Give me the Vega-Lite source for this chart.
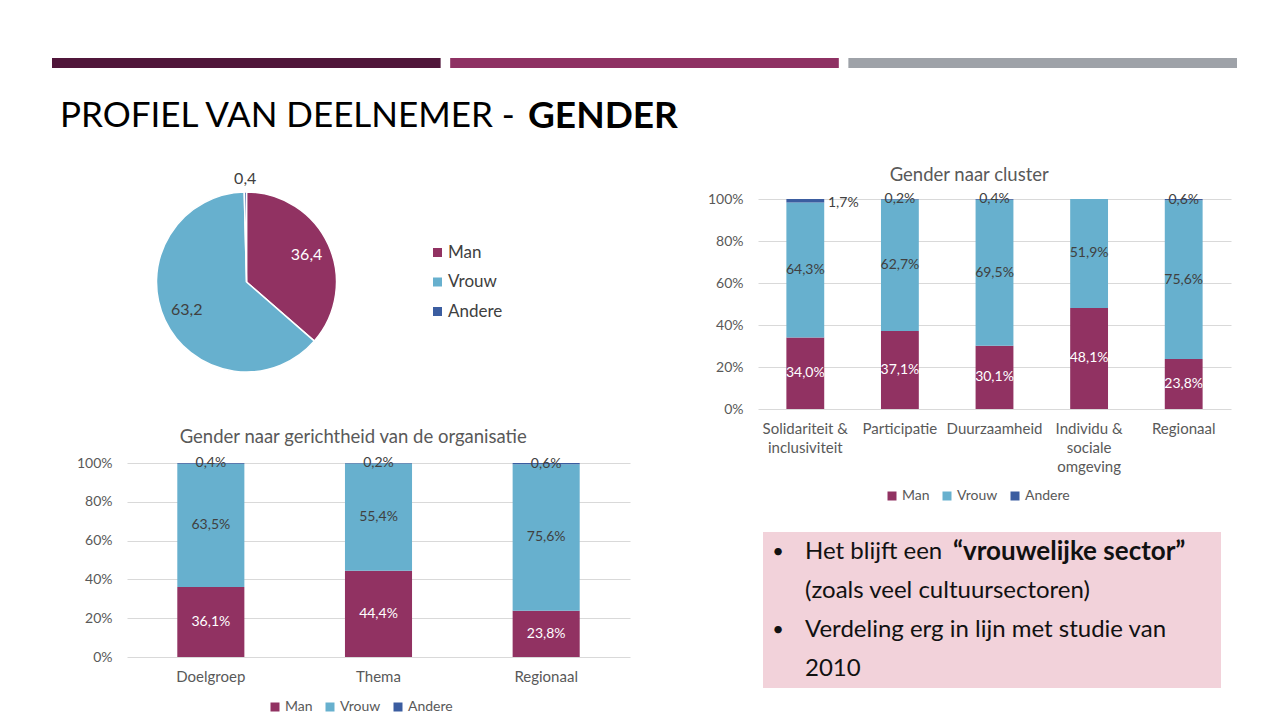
{
  "$schema": "https://vega.github.io/schema/vega-lite/v6.json",
  "padding": {"left": 52, "top": 58, "right": 0, "bottom": 0},
  "background": "white",
  "config": {
    "font": "Lato",
    "view": {"stroke": null},
    "locale": {"number": {"decimal": ",", "thousands": ".", "grouping": [3], "currency": ["€", ""], "percent": "%"}},
    "axis": {"labelFont": "Lato", "labelColor": "#595959", "domain": false, "ticks": false, "gridColor": "#D9D9D9", "gridWidth": 1},
    "legend": {"labelFont": "Lato", "padding": 0, "symbolStrokeWidth": 0}
  },
  "spacing": 65.5,
  "bounds": "flush",
  "resolve": {"scale": {"color": "independent"}, "legend": {"color": "independent"}},
  "vconcat": [
    {
      "width": 1185,
      "height": 10,
      "data": {"values": [{"seg": "a"}, {"seg": "b"}, {"seg": "c"}]},
      "mark": {"type": "bar"},
      "encoding": {
        "x": {"field": "seg", "type": "nominal", "axis": null, "scale": {"paddingInner": 0.024, "paddingOuter": 0}},
        "color": {"field": "seg", "type": "nominal", "legend": null, "scale": {"range": ["#50163A", "#8E3163", "#9EA2A8"]}}
      }
    },
    {
      "hconcat": [
        {
          "width": 476,
          "height": 11,
          "title": {"text": "PROFIEL VAN DEELNEMER -", "dx": 8, "dy": 28.5, "fontSize": 35, "font": "Lato", "fontWeight": "normal", "color": "#000000", "anchor": "start", "baseline": "alphabetic", "offset": 0},
          "data": {"values": [{}]},
          "mark": {"type": "text", "text": ""},
          "encoding": {}
        },
        {
          "width": 200,
          "height": 11,
          "title": {"text": "GENDER", "dy": 31.5, "fontSize": 37, "font": "Lato", "fontWeight": "bold", "color": "#000000", "anchor": "start", "baseline": "alphabetic", "offset": 0},
          "data": {"values": [{}]},
          "mark": {"type": "text", "text": ""},
          "encoding": {}
        }
      ],
      "spacing": 0,
      "bounds": "flush"
    },
    {
      "hconcat": [
        {
          "width": 1,
          "height": 1,
          "data": {"values": [{}]},
          "mark": {"type": "text", "text": ""},
          "encoding": {}
        },
        {
          "hconcat": [
            {
              "vconcat": [
                {
                  "width": 239,
                  "height": 166,
                  "data": {"values": [
                    {"gender": "Man", "v": 36.4, "k": 1},
                    {"gender": "Vrouw", "v": 63.2, "k": 2},
                    {"gender": "Andere", "v": 0.4, "k": 3}
                  ]},
                  "encoding": {
                    "theta": {"field": "v", "type": "quantitative", "stack": true},
                    "order": {"field": "k", "type": "quantitative"},
                    "detail": {"field": "gender", "type": "nominal"}
                  },
                  "layer": [
                    {
                      "mark": {"type": "arc", "outerRadius": 90, "stroke": "white", "strokeWidth": 1.5},
                      "encoding": {
                        "color": {
                          "field": "gender", "type": "nominal",
                          "scale": {"domain": ["Man", "Vrouw", "Andere"], "range": ["#913262", "#67B0CE", "#3B5DA0"]},
                          "legend": {"orient": "none", "legendX": 302, "legendY": 45, "direction": "vertical", "title": null, "symbolType": "square", "symbolSize": 81, "labelFontSize": 17, "labelColor": "#404040", "rowPadding": 11.5, "labelOffset": 2}
                        }
                      }
                    },
                    {
                      "mark": {"type": "text", "radius": 66, "fontSize": 16, "baseline": "middle", "align": "center"},
                      "encoding": {
                        "text": {"condition": {"test": "datum.gender == 'Andere'", "value": ""}, "field": "v", "type": "quantitative", "format": ".1f"},
                        "color": {"condition": {"test": "datum.gender == 'Man'", "value": "#FFFFFF"}, "value": "#404040"}
                      }
                    },
                    {
                      "mark": {"type": "text", "radius": 103, "fontSize": 16, "baseline": "middle", "align": "center", "color": "#404040"},
                      "encoding": {
                        "text": {"condition": {"test": "datum.gender != 'Andere'", "value": ""}, "field": "v", "type": "quantitative", "format": ".1f"}
                      }
                    }
                  ]
                },
                {
                  "width": 503,
                  "height": 194,
                  "title": {"text": "Gender naar gerichtheid van de organisatie", "frame": "bounds", "anchor": "middle", "fontSize": 18.5, "fontWeight": "normal", "color": "#595959", "offset": 10},
                  "data": {"values": [
                    {"cat": "Doelgroep", "gender": "Man", "v": 0.361, "k": 1},
                    {"cat": "Doelgroep", "gender": "Vrouw", "v": 0.635, "k": 2},
                    {"cat": "Doelgroep", "gender": "Andere", "v": 0.004, "k": 3},
                    {"cat": "Thema", "gender": "Man", "v": 0.444, "k": 1},
                    {"cat": "Thema", "gender": "Vrouw", "v": 0.554, "k": 2},
                    {"cat": "Thema", "gender": "Andere", "v": 0.002, "k": 3},
                    {"cat": "Regionaal", "gender": "Man", "v": 0.238, "k": 1},
                    {"cat": "Regionaal", "gender": "Vrouw", "v": 0.756, "k": 2},
                    {"cat": "Regionaal", "gender": "Andere", "v": 0.006, "k": 3}
                  ]},
                  "encoding": {
                    "x": {"field": "cat", "type": "nominal", "sort": null, "title": null, "scale": {"paddingInner": 0.6, "paddingOuter": 0.3}, "axis": {"labelAngle": 0, "labelFontSize": 15, "labelPadding": 12, "grid": false}},
                    "order": {"field": "k", "type": "quantitative"}
                  },
                  "layer": [
                    {
                      "mark": {"type": "bar"},
                      "encoding": {
                        "y": {"field": "v", "type": "quantitative", "stack": "zero", "title": null, "scale": {"domain": [0, 1]}, "axis": {"values": [0, 0.2, 0.4, 0.6, 0.8, 1], "format": ".0%", "labelFontSize": 14, "labelPadding": 15, "grid": true}},
                        "color": {
                          "field": "gender", "type": "nominal",
                          "scale": {"domain": ["Man", "Vrouw", "Andere"], "range": ["#913262", "#67B0CE", "#3B5DA0"]},
                          "legend": {"orient": "none", "legendX": 141, "legendY": 237, "direction": "horizontal", "columns": 3, "title": null, "symbolType": "square", "symbolSize": 81, "labelFontSize": 14, "labelColor": "#595959", "columnPadding": 10, "labelOffset": 3}
                        }
                      }
                    },
                    {
                      "mark": {"type": "text", "fontSize": 14, "baseline": "middle", "align": "center"},
                      "encoding": {
                        "y": {"field": "v", "type": "quantitative", "stack": "zero", "bandPosition": 0.5, "title": null, "scale": {"domain": [0, 1]}, "axis": {"values": [0, 0.2, 0.4, 0.6, 0.8, 1], "format": ".0%", "labelFontSize": 14, "labelPadding": 15, "grid": true}},
                        "detail": {"field": "gender", "type": "nominal"},
                        "text": {"field": "v", "type": "quantitative", "format": ".1%"},
                        "color": {"condition": {"test": "datum.gender == 'Man'", "value": "#FFFFFF"}, "value": "#404040"}
                      }
                    }
                  ]
                }
              ],
              "spacing": 98,
              "bounds": "flush",
              "resolve": {"scale": {"color": "independent"}, "legend": {"color": "independent"}}
            },
            {
              "vconcat": [
                {
                  "width": 473,
                  "height": 210,
                  "title": {"text": "Gender naar cluster", "frame": "bounds", "anchor": "middle", "fontSize": 18.5, "fontWeight": "normal", "color": "#595959", "offset": 8},
                  "data": {"values": [
                    {"cat": "Solidariteit & inclusiviteit", "gender": "Man", "v": 0.340, "k": 1},
                    {"cat": "Solidariteit & inclusiviteit", "gender": "Vrouw", "v": 0.643, "k": 2},
                    {"cat": "Solidariteit & inclusiviteit", "gender": "Andere", "v": 0.017, "k": 3},
                    {"cat": "Participatie", "gender": "Man", "v": 0.371, "k": 1},
                    {"cat": "Participatie", "gender": "Vrouw", "v": 0.627, "k": 2},
                    {"cat": "Participatie", "gender": "Andere", "v": 0.002, "k": 3},
                    {"cat": "Duurzaamheid", "gender": "Man", "v": 0.301, "k": 1},
                    {"cat": "Duurzaamheid", "gender": "Vrouw", "v": 0.695, "k": 2},
                    {"cat": "Duurzaamheid", "gender": "Andere", "v": 0.004, "k": 3},
                    {"cat": "Individu & sociale omgeving", "gender": "Man", "v": 0.481, "k": 1},
                    {"cat": "Individu & sociale omgeving", "gender": "Vrouw", "v": 0.519, "k": 2},
                    {"cat": "Regionaal", "gender": "Man", "v": 0.238, "k": 1},
                    {"cat": "Regionaal", "gender": "Vrouw", "v": 0.756, "k": 2},
                    {"cat": "Regionaal", "gender": "Andere", "v": 0.006, "k": 3}
                  ]},
                  "encoding": {
                    "x": {"field": "cat", "type": "nominal", "sort": null, "title": null, "scale": {"paddingInner": 0.6, "paddingOuter": 0.3}, "axis": {"labelAngle": 0, "labelFontSize": 15, "labelPadding": 12, "labelLineHeight": 19, "grid": false, "labelExpr": "datum.label == 'Solidariteit & inclusiviteit' ? ['Solidariteit &', 'inclusiviteit'] : datum.label == 'Individu & sociale omgeving' ? ['Individu &', 'sociale', 'omgeving'] : datum.label"}},
                    "order": {"field": "k", "type": "quantitative"}
                  },
                  "layer": [
                    {
                      "mark": {"type": "bar"},
                      "encoding": {
                        "y": {"field": "v", "type": "quantitative", "stack": "zero", "title": null, "scale": {"domain": [0, 1]}, "axis": {"values": [0, 0.2, 0.4, 0.6, 0.8, 1], "format": ".0%", "labelFontSize": 14, "labelPadding": 15, "grid": true}},
                        "color": {
                          "field": "gender", "type": "nominal",
                          "scale": {"domain": ["Man", "Vrouw", "Andere"], "range": ["#913262", "#67B0CE", "#3B5DA0"]},
                          "legend": {"orient": "none", "legendX": 127, "legendY": 290, "direction": "horizontal", "columns": 3, "title": null, "symbolType": "square", "symbolSize": 81, "labelFontSize": 14, "labelColor": "#595959", "columnPadding": 10, "labelOffset": 3}
                        }
                      }
                    },
                    {
                      "mark": {"type": "text", "fontSize": 14, "baseline": "middle", "align": "center"},
                      "encoding": {
                        "y": {"field": "v", "type": "quantitative", "stack": "zero", "bandPosition": 0.5, "title": null, "scale": {"domain": [0, 1]}, "axis": {"values": [0, 0.2, 0.4, 0.6, 0.8, 1], "format": ".0%", "labelFontSize": 14, "labelPadding": 15, "grid": true}},
                        "detail": {"field": "gender", "type": "nominal"},
                        "text": {"condition": {"test": "datum.cat == 'Solidariteit & inclusiviteit' && datum.gender == 'Andere'", "value": ""}, "field": "v", "type": "quantitative", "format": ".1%"},
                        "color": {"condition": {"test": "datum.gender == 'Man'", "value": "#FFFFFF"}, "value": "#404040"}
                      }
                    },
                    {
                      "transform": [
                        {"stack": "v", "groupby": ["cat"], "sort": [{"field": "k", "order": "ascending"}], "as": ["s0", "s1"]},
                        {"filter": "datum.cat == 'Solidariteit & inclusiviteit' && datum.gender == 'Andere'"}
                      ],
                      "mark": {"type": "text", "fontSize": 14, "baseline": "middle", "align": "center", "dx": 38, "color": "#404040"},
                      "encoding": {
                        "y": {"field": "s0", "type": "quantitative", "title": null, "scale": {"domain": [0, 1]}, "axis": {"values": [0, 0.2, 0.4, 0.6, 0.8, 1], "format": ".0%", "labelFontSize": 14, "labelPadding": 15, "grid": true}},
                        "text": {"field": "v", "type": "quantitative", "format": ".1%"}
                      }
                    }
                  ]
                },
                {
                  "hconcat": [
                    {
                      "width": 1,
                      "height": 1,
                      "data": {"values": [{}]},
                      "mark": {"type": "text", "text": ""},
                      "encoding": {}
                    },
                    {
                      "width": 458,
                      "height": 156,
                      "view": {"fill": "#F2D2DA", "stroke": null},
                      "encoding": {
                        "y": {"field": "line", "type": "ordinal", "scale": {"type": "point", "domain": [1, 2, 3, 4], "padding": 0.5}, "axis": null}
                      },
                      "layer": [
                        {
                          "data": {"values": [
                            {"line": 1, "t": "Het blijft een"},
                            {"line": 2, "t": "(zoals veel cultuursectoren)"},
                            {"line": 3, "t": "Verdeling erg in lijn met studie van"},
                            {"line": 4, "t": "2010"}
                          ]},
                          "mark": {"type": "text", "x": 42, "align": "left", "baseline": "middle", "fontSize": 24, "color": "#111111"},
                          "encoding": {"text": {"field": "t", "type": "nominal"}}
                        },
                        {
                          "data": {"values": [{"line": 1, "t": "“vrouwelijke sector”"}]},
                          "mark": {"type": "text", "x": 190, "align": "left", "baseline": "middle", "fontSize": 26, "fontWeight": "bold", "color": "#111111"},
                          "encoding": {"text": {"field": "t", "type": "nominal"}}
                        },
                        {
                          "data": {"values": [{"line": 1, "t": "•"}, {"line": 3, "t": "•"}]},
                          "mark": {"type": "text", "x": 15, "align": "center", "baseline": "middle", "fontSize": 20, "color": "#111111"},
                          "encoding": {"text": {"field": "t", "type": "nominal"}}
                        }
                      ]
                    }
                  ],
                  "spacing": 4,
                  "bounds": "flush"
                }
              ],
              "spacing": 123,
              "bounds": "flush",
              "resolve": {"scale": {"color": "independent"}, "legend": {"color": "independent"}}
            }
          ],
          "spacing": 631,
          "bounds": "flush",
          "resolve": {"scale": {"color": "independent"}, "legend": {"color": "independent"}}
        }
      ],
      "spacing": 74,
      "bounds": "flush",
      "resolve": {"scale": {"color": "independent"}, "legend": {"color": "independent"}}
    }
  ]
}
